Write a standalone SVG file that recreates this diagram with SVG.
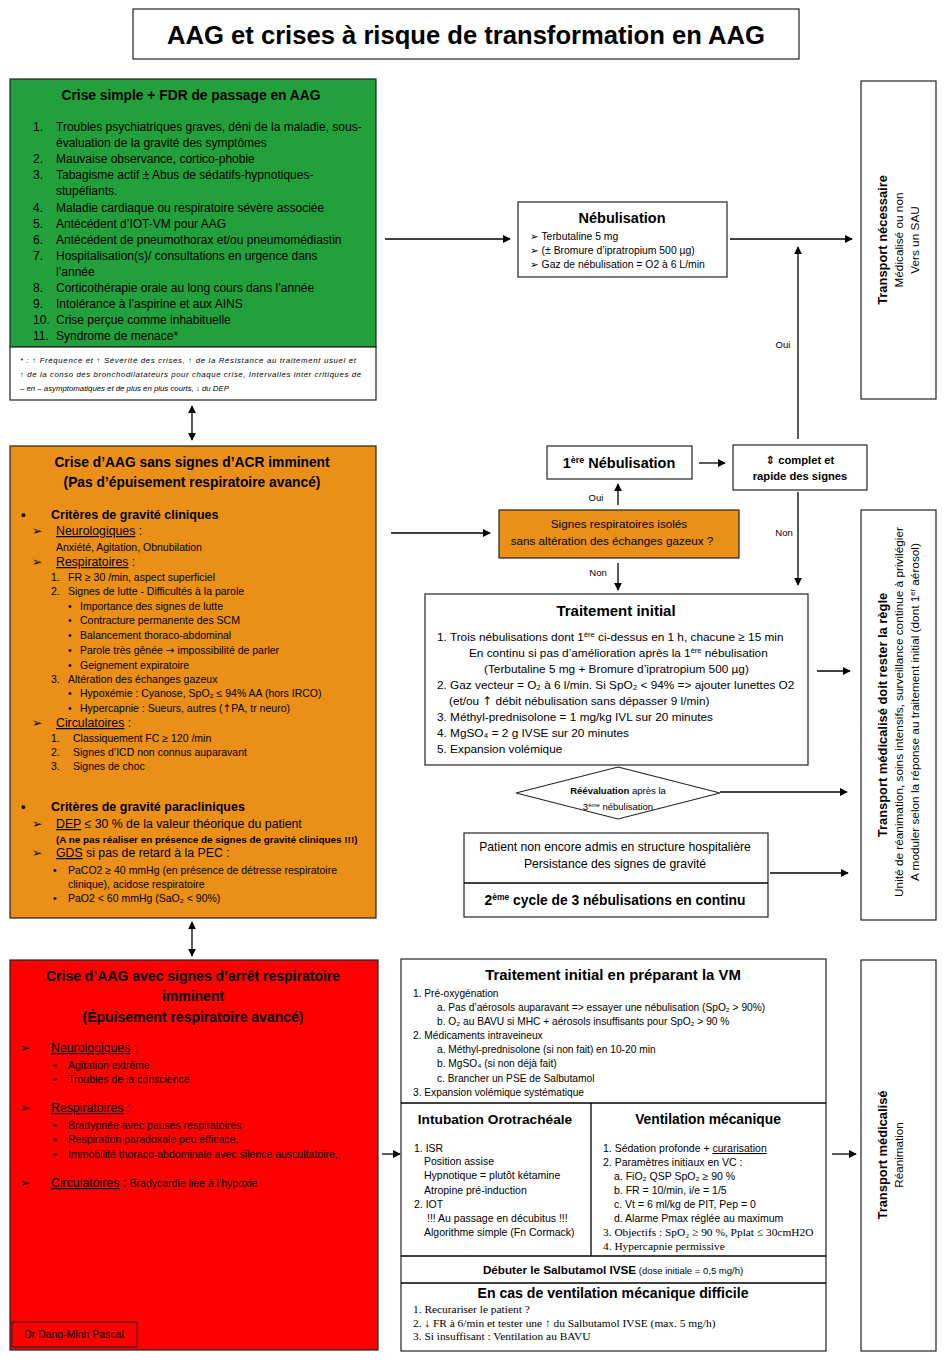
<svg xmlns="http://www.w3.org/2000/svg" width="946" height="1361" viewBox="0 0 946 1361">
<defs>
<marker id="ah" viewBox="0 0 10 10" refX="9" refY="5" markerWidth="8" markerHeight="8" markerUnits="userSpaceOnUse" orient="auto-start-reverse"><path d="M0,0 L10,5 L0,10 z" fill="#000"/></marker>
<style>
text{font-family:"Liberation Sans",Arial,sans-serif;fill:#000}
.b{font-weight:bold}
.c{text-anchor:middle}
.box{fill:#fff;stroke:#222;stroke-width:1.2}
.ln{stroke:#000;stroke-width:1.3;fill:none}
.ar{stroke:#000;stroke-width:1.3;fill:none;marker-end:url(#ah)}
.dar{stroke:#000;stroke-width:1.3;fill:none;marker-end:url(#ah);marker-start:url(#ah)}
.s{font-size:10.5px}
.m{font-size:12.3px}
.l{font-size:12px}
.ser{font-family:"Liberation Serif","Times New Roman",serif;font-size:11.4px}
.u{text-decoration:underline}
.it{font-style:italic;font-size:7.8px}
.g{font-family:"DejaVu Sans",sans-serif}
</style>
</defs>
<rect width="946" height="1361" fill="#fff"/>

<g id="title">
<rect x="133" y="9" width="666" height="50" class="box"/>
<text x="466" y="44" class="b c" font-size="25.6">AAG et crises à risque de transformation en AAG</text>
</g>

<g id="green">
<rect x="10" y="79" width="366" height="268" fill="#22a03b" stroke="#222" stroke-width="1.2"/>
<rect x="10" y="347" width="366" height="53" class="box"/>
<text x="191" y="100" class="b c" font-size="13.8">Crise simple + FDR de passage en AAG</text>
<g class="l">
<text x="33" y="131">1.</text><text x="56" y="131">Troubles psychiatriques graves, déni de la maladie, sous-</text>
<text x="56" y="147">évaluation de la gravité des symptômes</text>
<text x="33" y="163">2.</text><text x="56" y="163">Mauvaise observance, cortico-phobie</text>
<text x="33" y="179">3.</text><text x="56" y="179">Tabagisme actif ± Abus de sédatifs-hypnotiques-</text>
<text x="56" y="195">stupéfiants.</text>
<text x="33" y="212">4.</text><text x="56" y="212">Maladie cardiaque ou respiratoire sévère associée</text>
<text x="33" y="228">5.</text><text x="56" y="228">Antécédent d’IOT-VM pour AAG</text>
<text x="33" y="244">6.</text><text x="56" y="244">Antécédent de pneumothorax et/ou pneumomédiastin</text>
<text x="33" y="260">7.</text><text x="56" y="260">Hospitalisation(s)/ consultations en urgence dans</text>
<text x="56" y="276">l’année</text>
<text x="33" y="292">8.</text><text x="56" y="292">Corticothérapie orale au long cours dans l’année</text>
<text x="33" y="308">9.</text><text x="56" y="308">Intolérance à l’aspirine et aux AINS</text>
<text x="33" y="324">10.</text><text x="56" y="324">Crise perçue comme inhabituelle</text>
<text x="33" y="340">11.</text><text x="56" y="340">Syndrome de menace*</text>
</g>
<text x="20" y="363" class="it" textLength="336" lengthAdjust="spacing">* : ↑ Fréquence et ↑ Sévérité des crises, ↑ de la Résistance au traitement usuel et</text>
<text x="20" y="377" class="it" textLength="341" lengthAdjust="spacing">↑ de la conso des bronchodilatateurs pour chaque crise, Intervalles inter critiques de</text>
<text x="20" y="391" class="it">– en – asymptomatiques et de plus en plus courts, ↓ du DEP</text>
</g>

<g id="orange">
<rect x="10" y="446" width="366" height="472" fill="#ea9018" stroke="#222" stroke-width="1.2"/>
<text x="192" y="467" class="b c" font-size="13.8">Crise d’AAG sans signes d’ACR imminent</text>
<text x="192" y="487" class="b c" font-size="13.8">(Pas d’épuisement respiratoire avancé)</text>
<text x="21" y="519" class="b" font-size="13">•</text>
<text x="51" y="519" class="b" font-size="12.5">Critères de gravité cliniques</text>
<text x="32" y="535" class="m g">➢</text><text x="56" y="535" class="m"><tspan class="u">Neurologiques</tspan> :</text>
<text x="56" y="551" class="s">Anxiété, Agitation, Obnubilation</text>
<text x="32" y="566" class="m g">➢</text><text x="56" y="566" class="m"><tspan class="u">Respiratoires</tspan> :</text>
<g class="s">
<text x="51" y="581">1.</text><text x="68" y="581">FR ≥ 30 /min, aspect superficiel</text>
<text x="51" y="595">2.</text><text x="68" y="595">Signes de lutte - Difficultés à la parole</text>
<text x="68" y="610">•</text><text x="80" y="610">Importance des signes  de lutte</text>
<text x="68" y="624">•</text><text x="80" y="624">Contracture permanente des SCM</text>
<text x="68" y="639">•</text><text x="80" y="639">Balancement thoraco-abdominal</text>
<text x="68" y="654">•</text><text x="80" y="654">Parole très gênée <tspan class="g">→</tspan> impossibilité de parler</text>
<text x="68" y="669">•</text><text x="80" y="669">Geignement expiratoire</text>
<text x="51" y="683">3.</text><text x="68" y="683">Altération des échanges gazeux</text>
<text x="68" y="697">•</text><text x="80" y="697">Hypoxémie : Cyanose, SpO₂ ≤ 94% AA (hors IRCO)</text>
<text x="68" y="712">•</text><text x="80" y="712">Hypercapnie : Sueurs, autres (<tspan class="g">↑</tspan>PA, tr neuro)</text>
</g>
<text x="32" y="727" class="m g">➢</text><text x="56" y="727" class="m"><tspan class="u">Circulatoires</tspan> :</text>
<g class="s">
<text x="51" y="742">1.</text><text x="73" y="742">Classiquement FC ≥ 120 /min</text>
<text x="51" y="756">2.</text><text x="73" y="756">Signes d’ICD non connus auparavant</text>
<text x="51" y="770">3.</text><text x="73" y="770">Signes de choc</text>
</g>
<text x="21" y="811" class="b" font-size="13">•</text>
<text x="51" y="811" class="b" font-size="12.5">Critères de gravité paracliniques</text>
<text x="32" y="828" class="m g">➢</text><text x="56" y="828" class="m"><tspan class="u">DEP</tspan> ≤ 30 % de la valeur théorique du patient</text>
<text x="56" y="843" class="b" font-size="9.9">(A ne pas réaliser en présence de signes de gravité cliniques !!!)</text>
<text x="32" y="857" class="m g">➢</text><text x="56" y="857" class="m"><tspan class="u">GDS</tspan> si pas de retard à la PEC :</text>
<g class="s">
<text x="53" y="874">•</text><text x="68" y="874">PaCO2 ≥ 40 mmHg (en présence de détresse respiratoire</text>
<text x="68" y="888">clinique), acidose respiratoire</text>
<text x="53" y="902">•</text><text x="68" y="902">PaO2 &lt; 60 mmHg (SaO₂ &lt; 90%)</text>
</g>
</g>

<g id="red">
<rect x="10" y="960" width="368" height="390" fill="#ff0000" stroke="#222" stroke-width="1.2"/>
<text x="193" y="981" class="b c" font-size="14">Crise d’AAG avec signes d’arrêt respiratoire</text>
<text x="193" y="1001" class="b c" font-size="14">imminent</text>
<text x="193" y="1022" class="b c" font-size="14">(Épuisement respiratoire avancé)</text>
<text x="20" y="1052" class="m g">➢</text><text x="51" y="1052" class="m"><tspan class="u">Neurologiques</tspan> :</text>
<g class="s">
<text x="53" y="1069">•</text><text x="68" y="1069">Agitation extrême</text>
<text x="53" y="1083">•</text><text x="68" y="1083">Troubles de la conscience</text>
</g>
<text x="20" y="1112" class="m g">➢</text><text x="51" y="1112" class="m"><tspan class="u">Respiratoires</tspan> :</text>
<g class="s">
<text x="53" y="1129">•</text><text x="68" y="1129">Bradypnée avec pauses respiratoires</text>
<text x="53" y="1143">•</text><text x="68" y="1143">Respiration paradoxale peu efficace,</text>
<text x="53" y="1158">•</text><text x="68" y="1158">Immobilité thoraco-abdominale avec silence auscultatoire,</text>
</g>
<text x="20" y="1187" class="m g">➢</text><text x="51" y="1187" class="m"><tspan class="u">Circulatoires</tspan> : <tspan class="s">Bradycardie liée à l’hypoxie</tspan></text>
<rect x="12" y="1322" width="125" height="25" fill="none" stroke="#222" stroke-width="1"/>
<text x="24" y="1338" class="s">Dr Dang-Minh Pascal</text>
</g>

<g id="nebulisation">
<rect x="518" y="202" width="209" height="75" class="box"/>
<text x="622" y="223" class="b c" font-size="14.5">Nébulisation</text>
<g font-size="10.4">
<text x="530" y="240"><tspan class="g">➢</tspan> Terbutaline 5 mg</text>
<text x="530" y="254"><tspan class="g">➢</tspan> (± Bromure d’ipratropium 500 µg)</text>
<text x="530" y="268"><tspan class="g">➢</tspan> Gaz de nébulisation = O2 à 6 L/min</text>
</g>
</g>

<g id="nebu1">
<rect x="547" y="446" width="145" height="33" class="box"/>
<text x="619" y="468" class="b c" font-size="14.5">1<tspan font-size="9" dy="-5">ère</tspan><tspan dy="5"> Nébulisation</tspan></text>
</g>

<g id="complet">
<rect x="733" y="445" width="134" height="45" class="box"/>
<text x="800" y="464" class="b c" font-size="11.2"><tspan class="g">⇕</tspan> complet et</text>
<text x="800" y="480" class="b c" font-size="11.2">rapide des signes</text>
</g>

<g id="signes">
<rect x="499" y="510" width="240" height="48" fill="#ea9018" stroke="#222" stroke-width="1.2"/>
<text x="619" y="528" class="c" font-size="11.7">Signes respiratoires isolés</text>
<text x="612" y="545" class="c" font-size="11.7">sans altération des échanges gazeux ?</text>
</g>

<g id="traitement">
<rect x="425" y="594" width="383" height="171" class="box"/>
<text x="616" y="616" class="b c" font-size="15">Traitement initial</text>
<g font-size="11.8">
<text x="437" y="641">1. Trois nébulisations dont 1<tspan font-size="7.5" dy="-4">ère</tspan><tspan dy="4"> ci-dessus en 1 h, chacune ≥ 15 min</tspan></text>
<text x="469" y="657">En continu si pas d’amélioration après la 1<tspan font-size="7.5" dy="-4">ère</tspan><tspan dy="4"> nébulisation</tspan></text>
<text x="484" y="673">(Terbutaline 5 mg + Bromure d’ipratropium 500 µg)</text>
<text x="437" y="689">2. Gaz vecteur = O₂ à 6 l/min. Si SpO₂ &lt; 94% =&gt; ajouter lunettes O2</text>
<text x="449" y="705">(et/ou <tspan class="g">↑</tspan> débit nébulisation sans dépasser 9 l/min)</text>
<text x="437" y="721">3. Méthyl-prednisolone = 1 mg/kg IVL sur 20 minutes</text>
<text x="437" y="737">4. MgSO₄ = 2 g IVSE sur 20 minutes</text>
<text x="437" y="753">5. Expansion volémique</text>
</g>
</g>

<g id="reevaluation">
<polygon points="618,767 720,793 618,819 516,793" class="box"/>
<text x="618" y="794" class="c" font-size="9.5"><tspan class="b">Réévaluation</tspan> après la</text>
<text x="618" y="810" class="c" font-size="9.5">3<tspan font-size="6" dy="-3">ème</tspan><tspan dy="3"> nébulisation</tspan></text>
</g>

<g id="patient">
<rect x="464" y="833" width="304" height="84" class="box"/>
<line x1="464" y1="883" x2="768" y2="883" class="ln" stroke-width="1.2"/>
<text x="615" y="851" class="c" font-size="12.2">Patient non encore admis en structure hospitalière</text>
<text x="615" y="868" class="c" font-size="12.2">Persistance des signes de gravité</text>
<text x="615" y="905" class="b c" font-size="13.8">2<tspan font-size="8.5" dy="-5">ème</tspan><tspan dy="5"> cycle de 3 nébulisations en continu</tspan></text>
</g>

<g id="transport1">
<rect x="861" y="81" width="75" height="318" class="box"/>
<text transform="translate(887,240) rotate(-90)" class="b c" font-size="12.9">Transport nécessaire</text>
<text transform="translate(903,240) rotate(-90)" class="c" font-size="11.8">Médicalisé ou non</text>
<text transform="translate(919,240) rotate(-90)" class="c" font-size="11.8">Vers un SAU</text>
</g>

<g id="transport2">
<rect x="861" y="510" width="75" height="410" class="box"/>
<text transform="translate(887,715) rotate(-90)" class="b c" font-size="12.9">Transport médicalisé doit rester la règle</text>
<text transform="translate(903,712) rotate(-90)" class="c" font-size="11.8">Unité de réanimation, soins intensifs, surveillance continue à privilégier</text>
<text transform="translate(919,712) rotate(-90)" class="c" font-size="11.8">A moduler selon la réponse au traitement initial (dont 1<tspan font-size="7.5" dy="-4">er</tspan><tspan dy="4"> aérosol)</tspan></text>
</g>

<g id="transport3">
<rect x="861" y="960" width="75" height="391" class="box"/>
<text transform="translate(887,1155) rotate(-90)" class="b c" font-size="12.9">Transport médicalisé</text>
<text transform="translate(903,1155) rotate(-90)" class="c" font-size="11.7">Réanimation</text>
</g>

<g id="vm">
<rect x="401" y="959" width="425" height="392" class="box"/>
<line x1="401" y1="1103" x2="826" y2="1103" class="ln" stroke-width="1.2"/>
<line x1="591" y1="1103" x2="591" y2="1256" class="ln" stroke-width="1.2"/>
<line x1="401" y1="1256" x2="826" y2="1256" class="ln" stroke-width="1.2"/>
<line x1="401" y1="1283" x2="826" y2="1283" class="ln" stroke-width="1.2"/>
<text x="613" y="980" class="b c" font-size="14.9">Traitement initial en préparant la VM</text>
<g font-size="10.2">
<text x="413" y="997">1. Pré-oxygénation</text>
<text x="437" y="1011">a. Pas d’aérosols auparavant =&gt; essayer une nébulisation (SpO₂ &gt; 90%)</text>
<text x="437" y="1025">b. O₂ au BAVU si MHC + aérosols insuffisants pour SpO₂ &gt; 90 %</text>
<text x="413" y="1039">2. Médicaments intraveineux</text>
<text x="437" y="1053">a. Méthyl-prednisolone  (si non fait) en 10-20 min</text>
<text x="437" y="1067">b. MgSO₄ (si non déjà fait)</text>
<text x="437" y="1082">c. Brancher un PSE de Salbutamol</text>
<text x="413" y="1096">3. Expansion volémique systématique</text>
</g>
<text x="495" y="1124" class="b c" font-size="13.7">Intubation Orotrachéale</text>
<text x="708" y="1124" class="b c" font-size="13.8">Ventilation mécanique</text>
<g font-size="10.5">
<text x="414" y="1152">1. ISR</text>
<text x="424" y="1165">Position assise</text>
<text x="424" y="1179">Hypnotique = plutôt kétamine</text>
<text x="424" y="1194">Atropine pré-induction</text>
<text x="414" y="1208">2. IOT</text>
<text x="427" y="1222">!!! Au passage en décubitus !!!</text>
<text x="424" y="1236">Algorithme simple (Fn Cormack)</text>
<text x="603" y="1152">1. Sédation profonde + <tspan class="u">curarisation</tspan></text>
<text x="603" y="1166">2. Paramètres initiaux en VC :</text>
<text x="614" y="1180">a. FiO₂ QSP SpO₂ ≥ 90 %</text>
<text x="614" y="1194">b. FR = 10/min, i/e = 1/5</text>
<text x="614" y="1208">c. Vt = 6 ml/kg de PIT, Pep = 0</text>
<text x="614" y="1222">d. Alarme Pmax réglée au maximum</text>
</g>
<text x="603" y="1236" class="ser">3. Objectifs : SpO₂ ≥ 90 %, Pplat ≤ 30cmH2O</text>
<text x="603" y="1250" class="ser">4. Hypercapnie permissive</text>
<text x="613" y="1274" class="c"><tspan class="b" font-size="11.7">Débuter le Salbutamol IVSE</tspan><tspan font-size="9.5"> (dose initiale = 0,5 mg/h)</tspan></text>
<text x="613" y="1298" class="b c" font-size="14.1">En cas de ventilation mécanique difficile</text>
<text x="413" y="1313" class="ser">1. Recurariser le patient ?</text>
<text x="413" y="1327" class="ser">2. ↓ FR à 6/min et tester une ↑ du Salbutamol IVSE (max. 5 mg/h)</text>
<text x="413" y="1340" class="ser">3. Si insuffisant : Ventilation au BAVU</text>
</g>

<g id="connectors">
<line x1="192" y1="406" x2="192" y2="440" class="dar"/>
<line x1="192" y1="922" x2="192" y2="956" class="dar"/>
<line x1="385" y1="239" x2="510" y2="239" class="ar"/>
<line x1="730" y1="239" x2="852" y2="239" class="ar"/>
<line x1="798" y1="439" x2="798" y2="247" class="ar"/>
<text x="783" y="348" class="c" font-size="9.5">Oui</text>
<line x1="699" y1="463" x2="725" y2="463" class="ar"/>
<line x1="798" y1="492" x2="798" y2="585" class="ar"/>
<text x="784" y="536" class="c" font-size="9.5">Non</text>
<line x1="618" y1="505" x2="618" y2="484" class="ar"/>
<text x="596" y="501" class="c" font-size="9.5">Oui</text>
<line x1="391" y1="533" x2="490" y2="533" class="ar"/>
<line x1="618" y1="563" x2="618" y2="590" class="ar"/>
<text x="598" y="576" class="c" font-size="9.5">Non</text>
<line x1="817" y1="671" x2="850" y2="671" class="ar"/>
<line x1="720" y1="792" x2="847" y2="792" class="ar"/>
<line x1="770" y1="873" x2="848" y2="873" class="ar"/>
<line x1="382" y1="1154" x2="400" y2="1154" class="ar"/>
<line x1="832" y1="1154" x2="856" y2="1154" class="ar"/>
</g>
</svg>
